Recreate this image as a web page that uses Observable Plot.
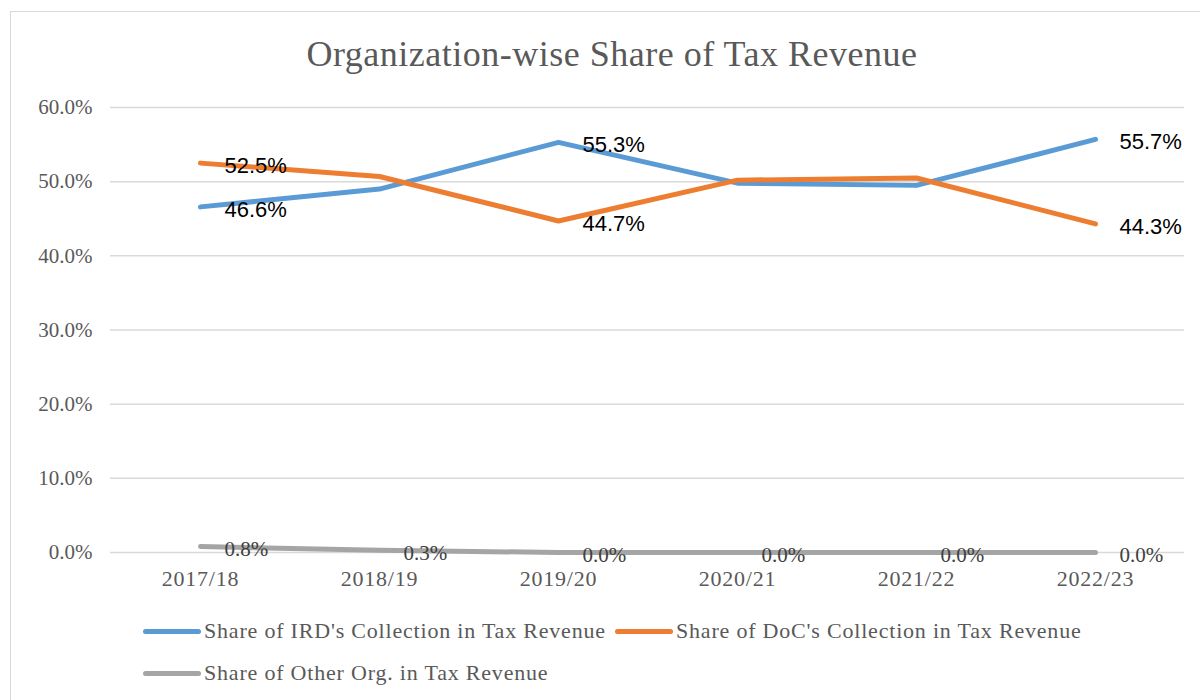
<!DOCTYPE html>
<html>
<head>
<meta charset="utf-8">
<script src="https://cdn.jsdelivr.net/npm/d3@7"></script>
<script src="https://cdn.jsdelivr.net/npm/@observablehq/plot@0.6"></script>
<style>
  html, body { margin: 0; padding: 0; background: #fff; }
  #page { position: relative; width: 1200px; height: 700px; overflow: hidden; background: #fff; }
  #frame { position: absolute; left: 10px; top: 11px; width: 1200px; height: 700px; border-left: 1.5px solid #d9d9d9; border-top: 1.5px solid #d9d9d9; }
  #title { position: absolute; left: 0; width: 1224px; top: 33px; text-align: center; font-family: "Liberation Serif", serif; font-size: 36px; letter-spacing: 0.5px; color: #595959; }
  #chart { position: absolute; left: 0; top: 0; }
  .legend { position: absolute; font-family: "Liberation Serif", serif; font-size: 22px; letter-spacing: 0.8px; color: #595959; display: flex; align-items: center; white-space: nowrap; }
  .sw { display: inline-block; width: 58px; height: 5px; border-radius: 3px; margin-right: 3px; }
</style>
</head>
<body>
<div id="page">
  <div id="frame"></div>
  <div id="chart"></div>
  <div id="title">Organization-wise Share of Tax Revenue</div>
  <div id="legend"></div>
</div>
<script>
const years = ["2017/18", "2018/19", "2019/20", "2020/21", "2021/22", "2022/23"];
const irdShare = [46.6, 49.0, 55.3, 49.8, 49.5, 55.7];
const docShare = [52.5, 50.7, 44.7, 50.2, 50.5, 44.3];
const otherShare = [0.8, 0.3, 0.0, 0.0, 0.0, 0.0];
const labeledYears = ["2017/18", "2019/20", "2022/23"];
const seriesNames = [
  "Share of IRD's Collection in Tax Revenue",
  "Share of DoC's Collection in Tax Revenue",
  "Share of Other Org. in Tax Revenue"
];
const seriesColors = ["#5B9BD5", "#ED7D31", "#A5A5A5"];
const yTicks = [0, 10, 20, 30, 40, 50, 60];

const rows = [];
[irdShare, docShare, otherShare].forEach((arr, s) => {
  arr.forEach((v, i) => rows.push({ series: seriesNames[s], year: years[i], value: v / 100 }));
});
const labelRows = rows.filter(d =>
  d.series === seriesNames[2] || labeledYears.includes(d.year));

const chart = Plot.plot({
  width: 1200,
  height: 600,
  marginLeft: 110,
  marginRight: 16,
  marginTop: 107,
  marginBottom: 48,
  x: { type: "point", domain: years, padding: 0.5, label: null },
  y: { domain: [0, 0.6], ticks: yTicks.map(t => t / 100), tickFormat: d3.format(".1%"), label: null },
  color: { domain: seriesNames, range: seriesColors },
  style: { fontFamily: "Liberation Serif, serif", fontSize: "21px", color: "#595959", background: "transparent" },
  marks: [
    Plot.gridY(yTicks.map(t => t / 100), { stroke: "#d9d9d9", strokeOpacity: 1, strokeWidth: 1.5 }),
    Plot.axisY(yTicks.map(t => t / 100), { tickSize: 0, tickPadding: 18, tickFormat: d3.format(".1%"), fontSize: 21, fill: "#595959", label: null }),
    Plot.axisX({ tickSize: 0, tickPadding: 18, fontSize: 22, fill: "#595959", label: null }),
    Plot.line(rows, { x: "year", y: "value", z: "series", stroke: "series", strokeWidth: 5, strokeLinecap: "round", strokeLinejoin: "round" }),
    Plot.text(labelRows.filter(d => d.series !== seriesNames[2]), {
      x: "year", y: "value", text: d => d3.format(".1%")(d.value),
      textAnchor: "start", dx: 24, dy: 3, fill: "#000", fontSize: 22, fontFamily: "Liberation Sans, sans-serif"
    }),
    Plot.text(labelRows.filter(d => d.series === seriesNames[2]), {
      x: "year", y: "value", text: d => d3.format(".1%")(d.value),
      textAnchor: "start", dx: 24, dy: 3, fill: "#404040", fontSize: 21, fontFamily: "Liberation Serif, serif"
    })
  ]
});
chart.querySelectorAll("g[aria-label='x-axis tick label'] text").forEach(t => t.setAttribute("letter-spacing", "0.8"));
document.getElementById("chart").appendChild(chart);

const legend = document.getElementById("legend");
const positions = [[143, 632], [615, 632], [143, 674]];
seriesNames.forEach((name, i) => {
  const item = document.createElement("div");
  item.className = "legend";
  item.style.left = positions[i][0] + "px";
  item.style.top = (positions[i][1] - 14) + "px";
  const sw = document.createElement("span");
  sw.className = "sw";
  sw.style.background = seriesColors[i];
  item.appendChild(sw);
  item.appendChild(document.createTextNode(name));
  legend.appendChild(item);
});
</script>
</body>
</html>
